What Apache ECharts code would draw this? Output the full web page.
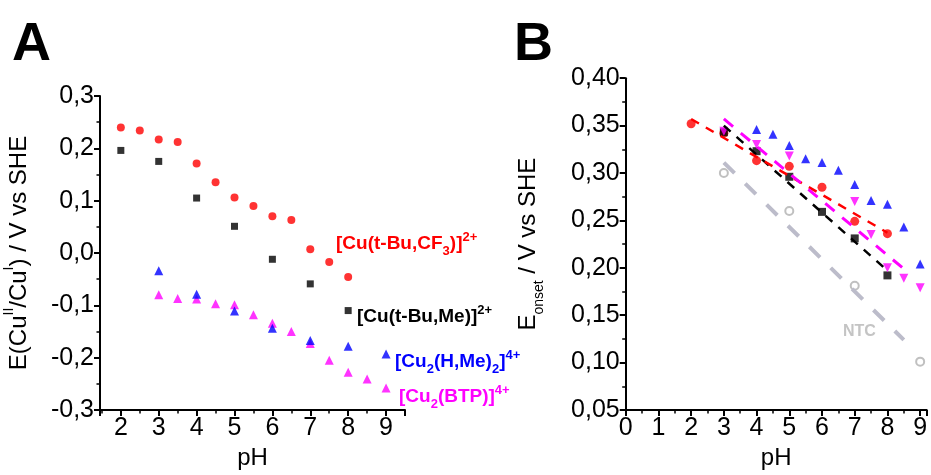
<!DOCTYPE html>
<html><head><meta charset="utf-8">
<script src="https://cdn.jsdelivr.net/npm/echarts@6/dist/echarts.min.js"></script>
<style>html,body{margin:0;padding:0;background:#fff}#c{width:931px;height:475px}</style>
</head><body><div id="c"></div>
<script>
const FONT = '"Liberation Sans", Arial, Helvetica, sans-serif';

// ---------- Panel A data ----------
const pHA_red   = [2, 2.5, 3, 3.5, 4, 4.5, 5, 5.5, 6, 6.5, 7, 7.5, 8];
const eA_red    = [0.240, 0.234, 0.217, 0.212, 0.171, 0.135, 0.106, 0.090, 0.070, 0.063, 0.007, -0.017, -0.046];
const pHA_black = [2, 3, 4, 5, 6, 7, 8];
const eA_black  = [0.196, 0.175, 0.105, 0.051, -0.012, -0.059, -0.110];
const pHA_blue  = [3, 4, 5, 6, 7, 8, 9];
const eA_blue   = [-0.034, -0.079, -0.111, -0.144, -0.167, -0.178, -0.193];
const pHA_mag   = [3, 3.5, 4, 4.5, 5, 5.5, 6, 6.5, 7, 7.5, 8, 8.5, 9];
const eA_mag    = [-0.080, -0.087, -0.088, -0.097, -0.099, -0.118, -0.134, -0.150, -0.173, -0.205, -0.228, -0.241, -0.258];

// ---------- Panel B data ----------
const pHB_red   = [2, 3, 4, 5, 6, 7, 8];
const eB_red    = [0.352, 0.342, 0.313, 0.307, 0.285, 0.249, 0.236];
const pHB_black = [3, 4, 5, 6, 7, 8];
const eB_black  = [0.343, 0.323, 0.296, 0.259, 0.231, 0.192];
const pHB_blue  = [4, 4.5, 5, 5.5, 6, 6.5, 7, 7.5, 8, 8.5, 9];
const eB_blue   = [0.346, 0.341, 0.329, 0.315, 0.311, 0.303, 0.288, 0.271, 0.267, 0.243, 0.204];
const pHB_mag   = [3, 4, 5, 7, 7.5, 8, 8.5, 9];
const eB_mag    = [0.344, 0.330, 0.318, 0.270, 0.235, 0.200, 0.189, 0.179];
const pHB_ntc   = [3, 5, 7, 9];
const eB_ntc    = [0.300, 0.260, 0.181, 0.101];
// fitted dashed lines (end points)
const fitB_red   = [[2, 0.357], [8, 0.237]];
const fitB_black = [[3, 0.350], [8, 0.197]];
const fitB_mag   = [[3, 0.357], [8.6, 0.196]];
const fitB_ntc   = [[3, 0.311], [8.5, 0.124]];

// ---------- Tick labels ----------
const xTicksA = [2, 3, 4, 5, 6, 7, 8, 9];
const xTicksB = [0, 1, 2, 3, 4, 5, 6, 7, 8, 9];

const zip = (xs, ys) => xs.map((x, i) => [x, ys[i]]);
const comma = d => v => (Math.abs(v) < 1e-9 ? 0 : v).toFixed(d).replace('.', ',');
const intLabel = ticks => v => {
  const r = Math.round(v);
  return (Math.abs(v - r) < 1e-6 && ticks.includes(r)) ? String(r) : '';
};

const axisCommon = {
  axisLine: {show: true, onZero: false, lineStyle: {color: '#000', width: 2}},
  axisTick: {show: true, inside: false, length: 6, lineStyle: {color: '#000', width: 2}},
  minorTick: {show: true, splitNumber: 2, length: 3.5, lineStyle: {color: '#000', width: 1.5}},
  splitLine: {show: false},
  axisLabel: {color: '#000', fontFamily: FONT, fontSize: 25, margin: 6},
  nameTextStyle: {color: '#000', fontFamily: FONT, fontSize: 24}
};
const ax = extra => Object.assign({}, JSON.parse(JSON.stringify(axisCommon)), extra);

function scat(name, xi, yi, data, symbol, size, color, extra) {
  return Object.assign({
    name, type: 'scatter', xAxisIndex: xi, yAxisIndex: yi, data,
    symbol, symbolSize: size, itemStyle: {color}, z: 3, silent: true
  }, extra || {});
}
function fit(data, color, width, dash, xi, yi) {
  return {type: 'line', xAxisIndex: xi, yAxisIndex: yi, data, symbol: 'none', silent: true, z: 5,
    lineStyle: {color, width, type: dash}};
}

const chart = echarts.init(document.getElementById('c'), null, {renderer: 'canvas'});

const supRich = {
  t: {fontSize: 24, fontFamily: FONT, color: '#000', lineHeight: 34},
  sup: {fontSize: 14, fontFamily: FONT, color: '#000', verticalAlign: 'top', lineHeight: 14},
  sub: {fontSize: 14, fontFamily: FONT, color: '#000', verticalAlign: 'bottom', lineHeight: 14}
};

function labelRich(color) {
  return {
    m: {fontSize: 19, fontWeight: 'bold', fontFamily: FONT, fill: color, lineHeight: 27},
    sb: {fontSize: 13, fontWeight: 'bold', fontFamily: FONT, fill: color, verticalAlign: 'bottom', lineHeight: 13},
    sp: {fontSize: 13, fontWeight: 'bold', fontFamily: FONT, fill: color, verticalAlign: 'top', lineHeight: 13}
  };
}
function txt(x, y, text, color) {
  return {type: 'text', x, y, silent: true, z: 10,
    style: {text, rich: labelRich(color), fill: color, verticalAlign: 'middle', align: 'left',
      font: 'bold 19px ' + FONT}};
}

chart.setOption({
  animation: false,
  backgroundColor: '#fff',
  grid: [
    {left: 100, top: 96, width: 305, height: 317.5, containLabel: false},
    {left: 625.7, top: 78.2, width: 301, height: 334.6, containLabel: false}
  ],
  xAxis: [
    ax({gridIndex: 0, type: 'value', min: 1.45, max: 9.5, splitNumber: 8,
      name: 'pH', nameLocation: 'middle', nameGap: 36,
      axisLabel: Object.assign({}, axisCommon.axisLabel, {formatter: intLabel(xTicksA), showMinLabel: true, showMaxLabel: true})}),
    ax({gridIndex: 1, type: 'value', min: 0, max: 9.2, interval: 1,
      name: 'pH', nameLocation: 'middle', nameGap: 36,
      axisLabel: Object.assign({}, axisCommon.axisLabel, {formatter: intLabel(xTicksB)})})
  ],
  yAxis: [
    ax({gridIndex: 0, type: 'value', min: -0.3, max: 0.3, interval: 0.1,
      name: '{t|E(Cu}{sup|II}{t|/Cu}{sup|I}{t|) / V vs SHE}', nameLocation: 'middle', nameRotate: 90, nameGap: 64,
      nameTextStyle: {color: '#000', fontFamily: FONT, fontSize: 24, rich: supRich},
      axisLabel: Object.assign({}, axisCommon.axisLabel, {formatter: comma(1)})}),
    ax({gridIndex: 1, type: 'value', min: 0.05, max: 0.40, interval: 0.05,
      name: '{t|E}{sub|onset}{t| / V vs SHE}', nameLocation: 'middle', nameRotate: 90, nameGap: 80,
      nameTextStyle: {color: '#000', fontFamily: FONT, fontSize: 24, rich: supRich},
      axisLabel: Object.assign({}, axisCommon.axisLabel, {formatter: comma(2)})})
  ],
  series: [
    scat('A red', 0, 0, zip(pHA_red, eA_red), 'circle', 8, '#ff0000'),
    scat('A black', 0, 0, zip(pHA_black, eA_black), 'rect', 7, '#000000'),
    scat('A magenta', 0, 0, zip(pHA_mag, eA_mag), 'triangle', 9, '#ff00ff'),
    scat('A blue', 0, 0, zip(pHA_blue, eA_blue), 'triangle', 9, '#0000ff'),

    scat('B ntc', 1, 1, zip(pHB_ntc, eB_ntc), 'emptyCircle', 8, '#b0b0b0', {itemStyle: {color: '#b0b0b0', borderWidth: 1.5}}),
    scat('B blue', 1, 1, zip(pHB_blue, eB_blue), 'triangle', 9, '#0000ff'),
    scat('B red', 1, 1, zip(pHB_red, eB_red), 'circle', 9, '#ff0000'),
    scat('B black', 1, 1, zip(pHB_black, eB_black), 'rect', 8, '#000000'),
    scat('B magenta', 1, 1, zip(pHB_mag, eB_mag), 'triangle', 9, '#ff00ff', {symbolRotate: 180}),

    fit(fitB_ntc, '#bcbcca', 4, [15, 15], 1, 1),
    fit(fitB_black, '#000000', 2.5, [9, 8], 1, 1),
    fit(fitB_red, '#ff0000', 2.5, [9, 8], 1, 1),
    fit(fitB_mag, '#ff00ff', 3, [12, 10], 1, 1)
  ],
  graphic: [
    {type: 'text', x: 12, y: 18, silent: true, style: {text: 'A', font: 'bold 54px ' + FONT, fill: '#000'}},
    {type: 'text', x: 514, y: 18, silent: true, style: {text: 'B', font: 'bold 54px ' + FONT, fill: '#000'}},
    txt(336, 244, '{m|[Cu(t-Bu,CF}{sb|3}{m|)]}{sp|2+}', '#ff0000'),
    txt(357, 317, '{m|[Cu(t-Bu,Me)]}{sp|2+}', '#000000'),
    txt(395, 362, '{m|[Cu}{sb|2}{m|(H,Me)}{sb|2}{m|]}{sp|4+}', '#0000ff'),
    txt(399, 397, '{m|[Cu}{sb|2}{m|(BTP)]}{sp|4+}', '#ff00ff'),
    {type: 'text', x: 843, y: 332, silent: true,
      style: {text: 'NTC', font: 'bold 16px ' + FONT, fill: '#c4c4c4', verticalAlign: 'middle'}}
  ]
});
</script>
</body></html>
